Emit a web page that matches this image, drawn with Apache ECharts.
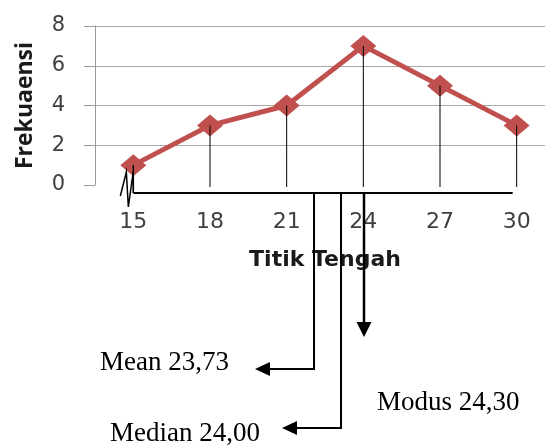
<!DOCTYPE html>
<html>
<head>
<meta charset="utf-8">
<script src="https://cdn.jsdelivr.net/npm/echarts@6/dist/echarts.min.js"></script>
<style>
html,body{margin:0;padding:0;background:#fff;}
#c{width:545px;height:446px;}
</style>
</head>
<body>
<div id="c"></div>
<script>
// ---- data ----
const categories = ['15', '18', '21', '24', '27', '30'];
const frekuensi = [1, 3, 4, 7, 5, 3];
const yMin = 0, yMax = 8, yInterval = 2;
const xAxisName = 'Titik Tengah';
const yAxisName = 'Frekuaensi';
const annotationLabels = ['Mean 23,73', 'Median 24,00', 'Modus 24,30'];

const chart = echarts.init(document.getElementById('c'), null, {renderer: 'canvas'});

const dropData = categories.map((c, i) => [i, frekuensi[i]]);

chart.setOption({
  animation: false,
  backgroundColor: '#fff',
  grid: {left: 95, right: -10, top: 26, bottom: 261, containLabel: false, outerBoundsMode: 'none'},
  xAxis: {
    type: 'category',
    data: categories,
    boundaryGap: true,
    axisLine: {show: false},
    axisTick: {show: false},
    axisLabel: {margin: 26, color: '#404040', fontFamily: 'DejaVu Sans', fontSize: 22},
    name: xAxisName,
    nameLocation: 'middle',
    nameGap: 64,
    nameTextStyle: {fontFamily: 'DejaVu Sans', fontWeight: 'bold', fontSize: 22, color: '#1a1a1a'}
  },
  yAxis: {
    type: 'value',
    min: yMin, max: yMax, interval: yInterval,
    axisLine: {show: true, lineStyle: {color: '#9a9a9a', width: 1}},
    axisTick: {show: true, length: 11, inside: false, lineStyle: {color: '#9a9a9a'}},
    splitLine: {show: true, showMinLine: false, lineStyle: {color: '#a8a8a8', width: 1}},
    axisLabel: {margin: 30, color: '#404040', fontFamily: 'DejaVu Sans', fontSize: 21},
    name: yAxisName,
    nameLocation: 'middle',
    nameRotate: 90,
    nameGap: 58,
    nameTextStyle: {fontFamily: 'Open Sans', fontWeight: 'bold', fontSize: 23, color: '#1a1a1a'}
  },
  series: [
    {
      type: 'line',
      data: frekuensi,
      z: 2,
      lineStyle: {color: '#C0504D', width: 5},
      itemStyle: {color: '#C0504D'},
      symbol: 'diamond',
      symbolSize: [26, 22],
      showSymbol: true
    },
    {
      type: 'custom',
      z: 3,
      data: dropData,
      renderItem: function (params, api) {
        const top = api.coord([api.value(0), api.value(1)]);
        const bot = api.coord([api.value(0), 0]);
        return {
          type: 'line',
          shape: {x1: top[0], y1: top[1], x2: bot[0], y2: bot[1] + 2},
          style: {stroke: '#000', lineWidth: 1}
        };
      }
    }
  ]
});

// annotation layer (baseline, broken-axis mark, arrows and labels)
const p0 = chart.convertToPixel({xAxisIndex: 0, yAxisIndex: 0}, [0, 0]);
const pLast = chart.convertToPixel({xAxisIndex: 0, yAxisIndex: 0}, [categories.length - 1, 0]);
const pFirst = chart.convertToPixel({xAxisIndex: 0, yAxisIndex: 0}, [0, frekuensi[0]]);
const baseY = p0[1] + 8;
const x0 = p0[0];

const lineStyle = {stroke: '#000', lineWidth: 2, fill: null};
const arrowFill = {fill: '#000', stroke: null};

const meanX = 314, medianX = 341, modusX = 364;
const meanY = 369, medianY = 428, modusTip = 337;

chart.setOption({
  graphic: [
    {type: 'polyline', shape: {points: [[x0, baseY], [pLast[0] - 4, baseY]]}, style: lineStyle, z: 10},
    {type: 'polyline', shape: {points: [[x0 - 13, baseY + 3], [x0 - 7, baseY - 21], [x0 - 5, baseY + 14], [x0, baseY - 22], [x0, baseY]]},
      style: {stroke: '#000', lineWidth: 1.5, fill: null}, z: 10},
    {type: 'polyline', shape: {points: [[pFirst[0], pFirst[1]], [pFirst[0], baseY]]}, style: {stroke: '#000', lineWidth: 1.2, fill: null}, z: 10},
    {type: 'polyline', shape: {points: [[meanX, baseY], [meanX, meanY], [255 + 14, meanY]]}, style: lineStyle, z: 10},
    {type: 'polygon', shape: {points: [[255, meanY], [255 + 15, meanY - 7], [255 + 15, meanY + 7]]}, style: arrowFill, z: 10},
    {type: 'polyline', shape: {points: [[medianX, baseY], [medianX, medianY], [282 + 14, medianY]]}, style: lineStyle, z: 10},
    {type: 'polygon', shape: {points: [[282, medianY], [282 + 15, medianY - 7], [282 + 15, medianY + 7]]}, style: arrowFill, z: 10},
    {type: 'polyline', shape: {points: [[modusX, baseY], [modusX, modusTip - 14]]}, style: {stroke: '#000', lineWidth: 2.5, fill: null}, z: 10},
    {type: 'polygon', shape: {points: [[modusX, modusTip], [modusX - 7.5, modusTip - 15], [modusX + 7.5, modusTip - 15]]}, style: arrowFill, z: 10},
    {type: 'text', x: 100, y: 363, style: {text: annotationLabels[0], fontFamily: 'Liberation Serif', fontSize: 27, fill: '#000', verticalAlign: 'middle', align: 'left'}, z: 10},
    {type: 'text', x: 110, y: 434, style: {text: annotationLabels[1], fontFamily: 'Liberation Serif', fontSize: 27, fill: '#000', verticalAlign: 'middle', align: 'left'}, z: 10},
    {type: 'text', x: 377, y: 403, style: {text: annotationLabels[2], fontFamily: 'Liberation Serif', fontSize: 27, fill: '#000', verticalAlign: 'middle', align: 'left'}, z: 10}
  ]
});
</script>
</body>
</html>
